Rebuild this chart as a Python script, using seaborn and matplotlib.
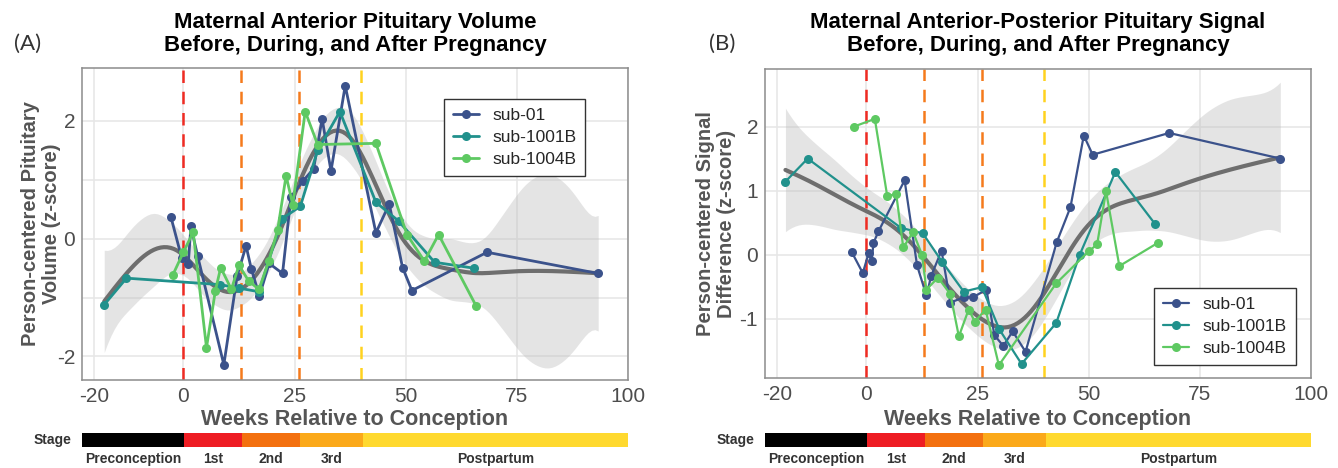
import numpy as np
import pandas as pd
import matplotlib
matplotlib.use("Agg")
import matplotlib.pyplot as plt
import seaborn as sns

# ==========================================
# DATA
# ==========================================
subjects = ["sub-01", "sub-1001B", "sub-1004B"]

# (A) anterior pituitary volume
vol_wk_01 = [-2.8, -0.4, 1.1, 1.7, 3.2, 9.1, 12.1, 14.1, 15.3, 17.1, 19.3, 22.3, 24.2,
             26.9, 29.3, 31.2, 33.2, 36.4, 43.3, 46.3, 49.3, 51.4, 68.3, 93.3]
vol_z_01 = [0.37, -0.32, -0.43, 0.21, -0.29, -2.14, -0.63, -0.12, -0.52, -0.97, -0.42, -0.59, 0.71,
            0.98, 1.19, 2.04, 1.15, 2.60, 0.10, 0.59, -0.49, -0.88, -0.23, -0.59]
vol_wk_1001 = [-17.8, -12.8, 8.3, 12.5, 17.0, 22.2, 26.3, 30.2, 35.2, 43.3, 48.4, 56.5, 65.3]
vol_z_1001 = [-1.12, -0.67, -0.78, -0.84, -0.90, 0.34, 0.55, 1.50, 2.16, 0.62, 0.30, -0.40, -0.50]
vol_wk_1004 = [-2.4, 0.0, 2.2, 5.2, 7.2, 8.4, 10.8, 12.5, 14.7, 17.0, 19.2, 21.2, 23.1,
               24.6, 27.4, 30.2, 43.3, 50.3, 54.2, 57.4, 65.9]
vol_z_1004 = [-0.62, -0.23, 0.11, -1.85, -0.88, -0.49, -0.86, -0.45, -0.72, -0.86, -0.38, 0.15, 1.07,
              0.58, 2.16, 1.60, 1.62, 0.07, -0.38, 0.07, -1.15]

# (B) anterior-posterior signal difference
sig_wk_01 = [-3.3, -0.8, 0.5, 1.2, 1.6, 2.7, 8.6, 11.4, 13.5, 14.6, 16.9, 18.9, 21.9,
             23.9, 27.0, 28.8, 30.8, 32.9, 35.8, 42.8, 45.9, 48.9, 50.9, 68.1, 93.1]
sig_z_01 = [0.04, -0.29, 0.02, -0.10, 0.18, 0.36, 1.16, -0.17, -0.64, -0.33, 0.06, -0.75, -0.67,
            -0.67, -0.55, -1.26, -1.43, -1.20, -1.52, 0.19, 0.74, 1.86, 1.56, 1.90, 1.50]
sig_wk_1001 = [-18.2, -13.2, 7.7, 12.7, 17.0, 21.9, 26.0, 29.9, 34.9, 42.7, 48.0, 56.0, 64.9]
sig_z_1001 = [1.14, 1.50, 0.42, 0.33, -0.11, -0.58, -0.51, -1.17, -1.71, -1.07, 0.00, 1.29, 0.48]
sig_wk_1004 = [-2.8, 1.9, 4.7, 6.7, 8.3, 10.5, 12.5, 13.5, 16.1, 18.9, 20.8, 23.0, 24.4,
               26.8, 29.8, 42.7, 50.0, 51.9, 53.9, 56.9, 65.5]
sig_z_1004 = [2.00, 2.12, 0.91, 0.95, 0.11, 0.35, 0.00, -0.55, -0.36, -0.62, -1.28, -0.86, -1.05,
              -0.86, -1.73, -0.45, 0.05, 0.16, 0.99, -0.18, 0.18]

# trimester boundaries and stage bar
stage_names = ["Preconception", "1st", "2nd", "3rd", "Postpartum"]
stage_bounds = [0, 13, 26, 40]
stage_colors = ["#000000", "#ee1d23", "#f3700f", "#fba91a", "#ffd92f"]
vline_colors = ["#ef2b22", "#f57a1c", "#f57a1c", "#ffd21f"]

x_ticks = [-20, 0, 25, 50, 75, 100]
XLIM = (-22.8, 99.2)

palette = {"sub-01": "#3b528b", "sub-1001B": "#21918c", "sub-1004B": "#5ec962"}


def make_df(pairs):
    rows = []
    for sub, (wk, z) in zip(subjects, pairs):
        rows.append(pd.DataFrame({"week": wk, "z": z, "subject": sub}))
    return pd.concat(rows, ignore_index=True)


df_vol = make_df([(vol_wk_01, vol_z_01), (vol_wk_1001, vol_z_1001), (vol_wk_1004, vol_z_1004)])
df_sig = make_df([(sig_wk_01, sig_z_01), (sig_wk_1001, sig_z_1001), (sig_wk_1004, sig_z_1004)])


# ==========================================
# SMOOTH: penalized B-spline (GAM-like) with pointwise 95% band
# ==========================================
def bspline_basis(x, lo, hi, nseg=20, deg=3):
    dx = (hi - lo) / nseg
    knots = lo + dx * np.arange(-deg, nseg + deg + 1)
    x = np.asarray(x, float)
    B = ((x[:, None] >= knots[None, :-1]) & (x[:, None] < knots[None, 1:])).astype(float)
    for k in range(1, deg + 1):
        left = (x[:, None] - knots[None, :-(k + 1)]) / (knots[None, k:-1] - knots[None, :-(k + 1)])
        right = (knots[None, k + 1:] - x[:, None]) / (knots[None, k + 1:] - knots[None, 1:-k])
        B = left * B[:, :-1] + right * B[:, 1:]
    return B


def smooth_fit(x, y, grid, lam, nseg=20):
    x = np.asarray(x, float)
    y = np.asarray(y, float)
    lo, hi = x.min(), x.max() + 1e-6
    B = bspline_basis(x, lo, hi, nseg)
    D = np.diff(np.eye(B.shape[1]), n=2, axis=0)
    A = np.linalg.inv(B.T @ B + lam * D.T @ D)
    beta = A @ B.T @ y
    S = B @ A @ B.T
    res = y - B @ beta
    s2 = res @ res / (len(y) - np.trace(S))
    Bg = bspline_basis(np.clip(grid, lo, hi - 1e-6), lo, hi, nseg)
    fit = Bg @ beta
    se = np.sqrt(s2 * np.einsum("ij,jk,ik->i", Bg, A, Bg))
    return fit, fit - 1.98 * se, fit + 1.98 * se


# ==========================================
# FIGURE
# ==========================================
sns.set_theme(style="white")
plt.rcParams["font.family"] = ["Liberation Sans", "DejaVu Sans"]
plt.rcParams["axes.unicode_minus"] = False

fig = plt.figure(figsize=(13.38, 4.68), dpi=100)
W, H = 1338, 468

panels = [
    dict(df=df_vol, left=82, top=68, bottom=380, ylim=(-2.4, 2.9), yt=[-2, 0, 2], ym=[-1, 1],
         lam=0.5, nseg=20, tag="(A)", tagx=28,
         title="Maternal Anterior Pituitary Volume\nBefore, During, and After Pregnancy",
         ylabel="Person-centered Pituitary\nVolume (z-score)", ylx=41,
         leg=dict(loc="upper right", bbox_to_anchor=(0.922, 0.9)), lw=2.0),
    dict(df=df_sig, left=765, top=69, bottom=378, ylim=(-1.93, 2.9), yt=[-1, 0, 1, 2], ym=[],
         lam=3.0, nseg=20, tag="(B)", tagx=722,
         title="Maternal Anterior-Posterior Pituitary Signal\nBefore, During, and After Pregnancy",
         ylabel="Person-centered Signal\nDifference (z-score)", ylx=716,
         leg=dict(loc="lower right", bbox_to_anchor=(0.972, 0.042)), lw=1.6),
]

grey_txt = "#555555"
pw = 546

for p in panels:
    ax = fig.add_axes([p["left"] / W, 1 - p["bottom"] / H, pw / W, (p["bottom"] - p["top"]) / H])
    df = p["df"]

    ax.set_xlim(*XLIM)
    ax.set_ylim(*p["ylim"])
    ax.set_xticks(x_ticks)
    ax.set_yticks(p["yt"])
    ax.set_yticks(p["ym"], minor=True)
    ax.grid(True, which="both", color="#e6e6e6", lw=1.1)
    ax.set_axisbelow(True)
    ax.tick_params(axis="both", which="both", length=0, labelsize=15, labelcolor="#4d4d4d", pad=5)
    for sp in ax.spines.values():
        sp.set_color("#8c8c8c")
        sp.set_linewidth(1.1)

    # smooth + confidence band
    grid = np.linspace(df["week"].min(), df["week"].max(), 150)
    fit, lo, hi = smooth_fit(df["week"], df["z"], grid, p["lam"], p["nseg"])
    ax.fill_between(grid, lo, hi, color="#bdbdbd", alpha=0.4, lw=0, zorder=1)

    # trimester lines
    for b, c in zip(stage_bounds, vline_colors):
        ax.axvline(b, color=c, lw=1.8, ls=(0, (5, 3.5)), zorder=2)

    ax.plot(grid, fit, color="#6e6e6e", lw=3, zorder=3)

    sns.lineplot(data=df, x="week", y="z", hue="subject", palette=palette, hue_order=subjects,
                 estimator=None, sort=False, marker="o", markersize=6.5, markeredgewidth=0,
                 lw=p["lw"], ax=ax, zorder=4)

    ax.set_xlabel("")
    ax.set_ylabel("")
    handles, labels = ax.get_legend_handles_labels()
    leg = ax.legend(handles, labels, fontsize=12.5, frameon=True, fancybox=False,
                    edgecolor="#333333", framealpha=1, handlelength=1.5, borderpad=0.5,
                    labelspacing=0.4, handletextpad=0.8, borderaxespad=0, **p["leg"])
    leg.get_frame().set_linewidth(1.0)

    cx = (p["left"] + pw / 2) / W
    fig.text(cx, 1 - 34 / H, p["title"], ha="center", va="center", fontsize=16,
             fontweight="bold", color="black", linespacing=1.15)
    fig.text(p["tagx"] / W, 1 - 44 / H, p["tag"], ha="center", va="center", fontsize=16,
             family=["Lato", "DejaVu Sans"], color="#333333")
    fig.text(p["ylx"] / W, 1 - ((p["top"] + p["bottom"]) / 2) / H, p["ylabel"], rotation=90,
             ha="center", va="center", fontsize=14.5, fontweight="bold", color=grey_txt,
             linespacing=1.1, multialignment="center")
    fig.text(cx, 1 - 420 / H, "Weeks Relative to Conception", ha="center", va="center",
             fontsize=15.5, fontweight="bold", color=grey_txt)

    # stage bar
    axb = fig.add_axes([p["left"] / W, 1 - 447 / H, pw / W, 14 / H])
    starts = [XLIM[0]] + stage_bounds
    ends = stage_bounds + [XLIM[1]]
    widths = [e - s for s, e in zip(starts, ends)]
    axb.barh(0.5, widths, left=starts, height=1, color=stage_colors, lw=0)
    axb.set_xlim(*XLIM)
    axb.set_ylim(0, 1)
    axb.axis("off")
    for name, s, e in zip(stage_names, starts, ends):
        axb.text((s + e) / 2, -0.85, name, ha="center", va="center", fontsize=10,
                 fontweight="bold", color="#333333",
                 family=["Liberation Sans Narrow", "Liberation Sans", "DejaVu Sans"])
    axb.text(-0.02, 0.5, "Stage", transform=axb.transAxes, ha="right", va="center",
             fontsize=10, fontweight="bold", color="#333333",
             family=["Liberation Sans Narrow", "Liberation Sans", "DejaVu Sans"])

fig.savefig("out.png", dpi=100)
